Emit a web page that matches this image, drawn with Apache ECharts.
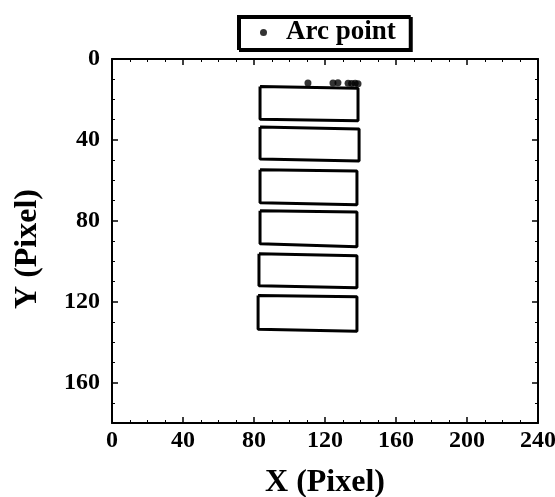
<!DOCTYPE html>
<html>
<head>
<meta charset="utf-8">
<script src="https://cdn.jsdelivr.net/npm/echarts@6/dist/echarts.min.js"></script>
<style>
  html, body { margin: 0; padding: 0; background: #fff; }
  #chart { width: 555px; height: 497px; }
</style>
</head>
<body>
<div id="chart"></div>
<script>
// Detected arc points (pixel coordinates)
const arcX = [110.4, 124.5, 127.3, 133.0, 135.0, 137.0, 138.6];
const arcY = [11.9, 11.9, 11.8, 12.0, 12.1, 12.0, 12.3];

// Outlined cells, corners as [top-left, top-right, bottom-right, bottom-left]
const cellLeftTop     = [[83.4, 13.6], [83.4, 33.6], [83.4, 54.8], [83.4, 75.1], [82.8, 96.3], [82.3, 117.0]];
const cellRightTop    = [[138.6, 14.5], [139.2, 34.6], [138.0, 55.4], [138.0, 75.6], [138.0, 97.3], [138.0, 117.6]];
const cellRightBottom = [[138.6, 30.5], [139.2, 50.4], [138.0, 72.1], [138.0, 92.8], [138.0, 113.1], [138.0, 134.6]];
const cellLeftBottom  = [[83.4, 29.8], [83.4, 49.4], [83.4, 71.1], [83.4, 91.4], [82.8, 112.1], [82.3, 133.6]];

const xTicks = { min: 0, max: 240, interval: 40 };
const yTicks = { min: 0, max: 180, interval: 40 };

const serif = '"Liberation Serif", "DejaVu Serif", serif';

const cellSeries = cellLeftTop.map((_, i) => ({
  type: 'line',
  name: 'cell' + i,
  data: [cellLeftTop[i], cellRightTop[i], cellRightBottom[i], cellLeftBottom[i], cellLeftTop[i]],
  symbol: 'none',
  lineStyle: { color: '#000', width: 3 },
  silent: true,
  animation: false,
  z: 2
}));

function frameAxis(extra) {
  return Object.assign({
    type: 'value',
    axisLine: { show: true, onZero: false, lineStyle: { color: '#000', width: 2 } },
    axisTick: { show: true, inside: true, length: 6, lineStyle: { color: '#000', width: 1.5 } },
    minorTick: { show: true, splitNumber: 4, length: 3, lineStyle: { color: '#000', width: 1 } },
    splitLine: { show: false },
    minorSplitLine: { show: false }
  }, extra);
}

const tickFont = { fontFamily: serif, fontWeight: 'bold', fontSize: 24, color: '#000' };
const nameFont = { fontFamily: serif, fontWeight: 'bold', fontSize: 32, color: '#000' };

const chart = echarts.init(document.getElementById('chart'), null, { renderer: 'canvas' });
chart.setOption({
  animation: false,
  backgroundColor: '#fff',
  grid: { left: 112, right: 17, top: 59, bottom: 74, containLabel: false, outerBoundsMode: 'none' },
  legend: {
    data: ['Arc point'],
    top: 16,
    left: 238,
    icon: 'circle',
    itemWidth: 7,
    itemHeight: 7,
    itemGap: 10,
    padding: [3, 14, 3, 22],
    borderColor: '#000',
    borderWidth: 2,
    backgroundColor: '#fff',
    shadowColor: '#000',
    shadowBlur: 0,
    shadowOffsetX: 2,
    shadowOffsetY: 2,
    textStyle: { fontFamily: serif, fontWeight: 'bold', fontSize: 27, color: '#000', padding: [0, 0, 0, 14] }
  },
  xAxis: [
    frameAxis({
      position: 'bottom',
      min: xTicks.min, max: xTicks.max, interval: xTicks.interval,
      name: 'X (Pixel)', nameLocation: 'middle', nameGap: 44,
      nameTextStyle: nameFont,
      axisLabel: Object.assign({ margin: 6 }, tickFont)
    }),
    frameAxis({
      position: 'top',
      min: xTicks.min, max: xTicks.max, interval: xTicks.interval,
      axisLabel: { show: false }
    })
  ],
  yAxis: [
    frameAxis({
      position: 'left', inverse: true,
      min: yTicks.min, max: yTicks.max, interval: yTicks.interval,
      name: 'Y (Pixel)', nameLocation: 'middle', nameGap: 68,
      nameTextStyle: Object.assign({ padding: [0, 16, 0, 0] }, nameFont),
      axisLabel: Object.assign({ margin: 12, showMaxLabel: false }, tickFont)
    }),
    frameAxis({
      position: 'right', inverse: true,
      min: yTicks.min, max: yTicks.max, interval: yTicks.interval,
      axisLabel: { show: false }
    })
  ],
  series: [
    {
      type: 'scatter',
      name: 'Arc point',
      data: arcX.map((x, i) => [x, arcY[i]]),
      symbol: 'circle',
      symbolSize: 7,
      itemStyle: { color: '#000' },
      z: 3
    }
  ].concat(cellSeries)
});
</script>
</body>
</html>
